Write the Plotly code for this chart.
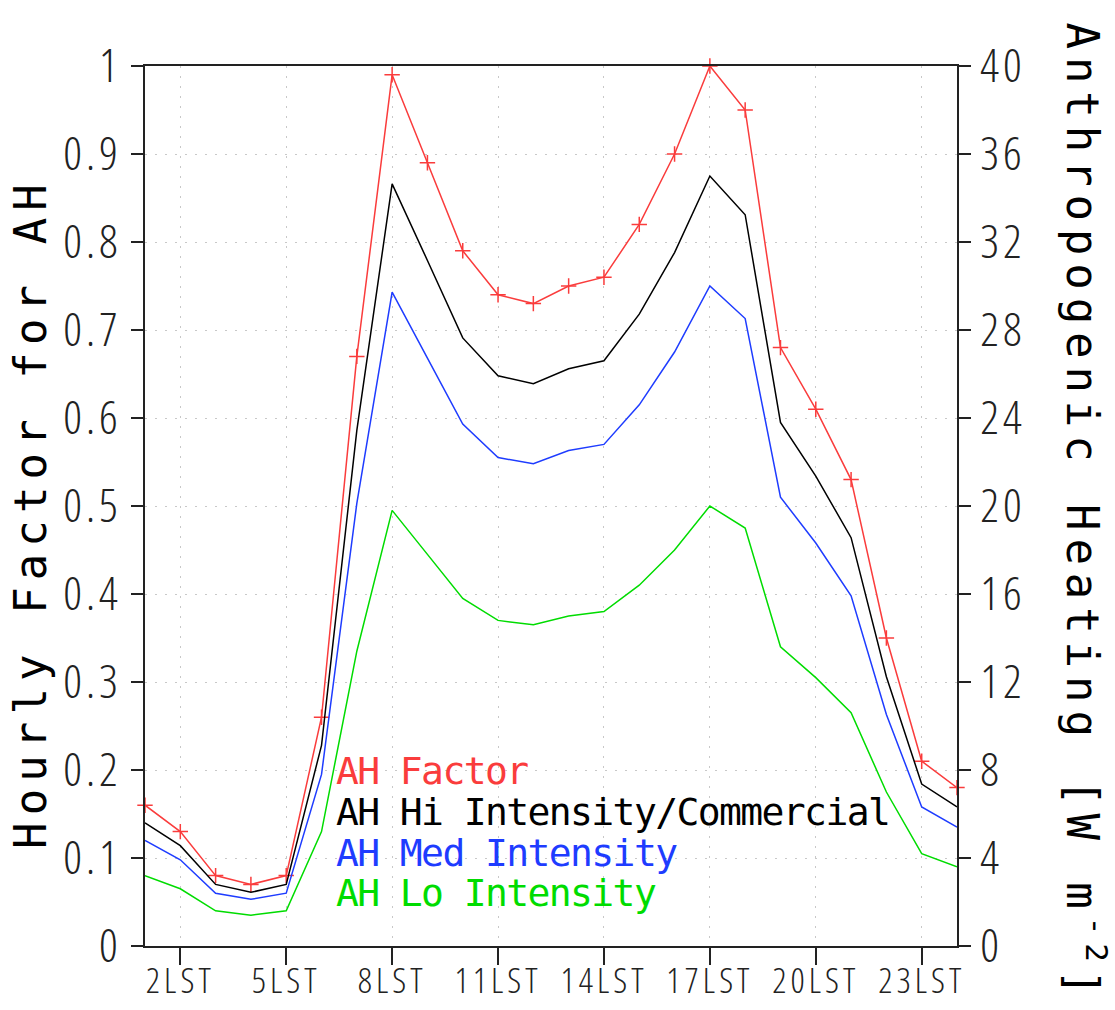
import plotly.graph_objects as go

hours = list(range(1, 25))
ah_factor = [0.16, 0.13, 0.08, 0.07, 0.08, 0.26, 0.67, 0.99, 0.89, 0.79, 0.74, 0.73,
             0.75, 0.76, 0.82, 0.90, 1.00, 0.95, 0.68, 0.61, 0.53, 0.35, 0.21, 0.18]
ah_hi = [0.140, 0.114, 0.070, 0.061, 0.070, 0.228, 0.586, 0.866, 0.779, 0.691, 0.648, 0.639,
         0.656, 0.665, 0.718, 0.788, 0.875, 0.831, 0.595, 0.534, 0.464, 0.306, 0.184, 0.158]
ah_med = [0.120, 0.098, 0.060, 0.053, 0.060, 0.195, 0.503, 0.743, 0.668, 0.593, 0.555, 0.548,
          0.563, 0.570, 0.615, 0.675, 0.750, 0.713, 0.510, 0.458, 0.398, 0.263, 0.158, 0.135]
ah_lo = [0.080, 0.065, 0.040, 0.035, 0.040, 0.130, 0.335, 0.495, 0.445, 0.395, 0.370, 0.365,
         0.375, 0.380, 0.410, 0.450, 0.500, 0.475, 0.340, 0.305, 0.265, 0.175, 0.105, 0.090]

xtick_vals = [2, 5, 8, 11, 14, 17, 20, 23]
xtick_text = ["2LST", "5LST", "8LST", "11LST", "14LST", "17LST", "20LST", "23LST"]
ytick_vals = [0, 0.1, 0.2, 0.3, 0.4, 0.5, 0.6, 0.7, 0.8, 0.9, 1]
ytick_text = ["0", "0.1", "0.2", "0.3", "0.4", "0.5", "0.6", "0.7", "0.8", "0.9", "1"]
y2tick_vals = [0, 4, 8, 12, 16, 20, 24, 28, 32, 36, 40]
y2tick_text = ["0", "4", "8", "12", "16", "20", "24", "28", "32", "36", "40"]

legend_names = ["AH Factor", "AH Hi Intensity/Commercial", "AH Med Intensity", "AH Lo Intensity"]
left_title = "Hourly Factor for AH"
right_title = "Anthropogenic Heating [W m<sup>-2</sup>]"

RED = "rgb(250,60,60)"
BLACK = "rgb(0,0,0)"
BLUE = "rgb(30,60,255)"
GREEN = "rgb(0,220,0)"
colors = [RED, BLACK, BLUE, GREEN]

THIN = "Open Sans"
MONO = "DejaVu Sans Mono, monospace"


def cond(t, ls):
    return "<span style='font-stretch:condensed;letter-spacing:%spx'>%s</span>" % (ls, t)


fig = go.Figure()
series = [ah_factor, ah_hi, ah_med, ah_lo]
for i, (vals, c) in enumerate(zip(series, colors)):
    if i == 0:
        fig.add_trace(go.Scatter(x=hours, y=vals, mode="lines+markers",
                                 line=dict(color=c, width=1.5),
                                 marker=dict(symbol="cross-thin", size=11,
                                             line=dict(color=c, width=1.5)),
                                 showlegend=False, cliponaxis=False))
    else:
        fig.add_trace(go.Scatter(x=hours, y=vals, mode="lines",
                                 line=dict(color=c, width=1.5),
                                 showlegend=False, cliponaxis=False))
# empty trace so the right axis is drawn
fig.add_trace(go.Scatter(x=[], y=[], yaxis="y2", showlegend=False))

ann = []
ypos = [0.1989, 0.1523, 0.1057, 0.0602]
for name, c, yp in zip(legend_names, colors, ypos):
    ann.append(dict(text="<span style='letter-spacing:-1.6px'>" + name + "</span>",
                    xref="paper", yref="paper", x=0.2328, y=yp,
                    xanchor="left", yanchor="middle", showarrow=False,
                    font=dict(family=MONO, size=38, color=c)))
ann.append(dict(text="<span style='letter-spacing:7.1px'>" + left_title + "</span>",
                xref="paper", yref="paper", x=-0.1404, y=0.4921, textangle=-90,
                xanchor="center", yanchor="middle", showarrow=False,
                font=dict(family=MONO, size=44, color="black")))
ann.append(dict(text="<span style='letter-spacing:7.9px'>" + right_title + "</span>",
                xref="paper", yref="paper", x=1.1589, y=0.4925, textangle=90,
                xanchor="center", yanchor="middle", showarrow=False,
                font=dict(family=MONO, size=44, color="black")))

axis_line = "#222222"
grid_c = "#c8c8c8"
fig.update_layout(
    width=1115, height=1010,
    margin=dict(l=145, r=158, t=66, b=64, autoexpand=False),
    paper_bgcolor="white", plot_bgcolor="white",
    showlegend=False,
    annotations=ann,
    xaxis=dict(range=[1, 24], tickvals=xtick_vals, ticktext=[cond(t, 4) for t in xtick_text],
               showline=True, linecolor=axis_line, linewidth=2, mirror=True,
               ticks="outside", ticklen=17, tickwidth=2, tickcolor=axis_line,
               ticklabelstandoff=-14,
               showgrid=True, gridcolor=grid_c, griddash="2px,8px", gridwidth=1,
               zeroline=False, automargin=False,
               tickfont=dict(family=THIN, size=35, weight=300, color="#222")),
    yaxis=dict(range=[0, 1], tickvals=ytick_vals, ticktext=[cond(t, 4) for t in ytick_text],
               showline=True, linecolor=axis_line, linewidth=2,
               ticks="outside", ticklen=12, tickwidth=2, tickcolor=axis_line,
               showgrid=True, gridcolor=grid_c, griddash="2px,8px", gridwidth=1,
               zeroline=False, automargin=False,
               tickfont=dict(family=THIN, size=46, weight=300, color="#222")),
    yaxis2=dict(range=[0, 40], tickvals=y2tick_vals, ticktext=[cond(t, 4) for t in y2tick_text],
                overlaying="y", side="right",
                showline=True, linecolor=axis_line, linewidth=2,
                ticks="outside", ticklen=12, tickwidth=2, tickcolor=axis_line,
                showgrid=False, zeroline=False, automargin=False,
                tickfont=dict(family=THIN, size=46, weight=300, color="#222")),
)

fig.write_html("out.html")
